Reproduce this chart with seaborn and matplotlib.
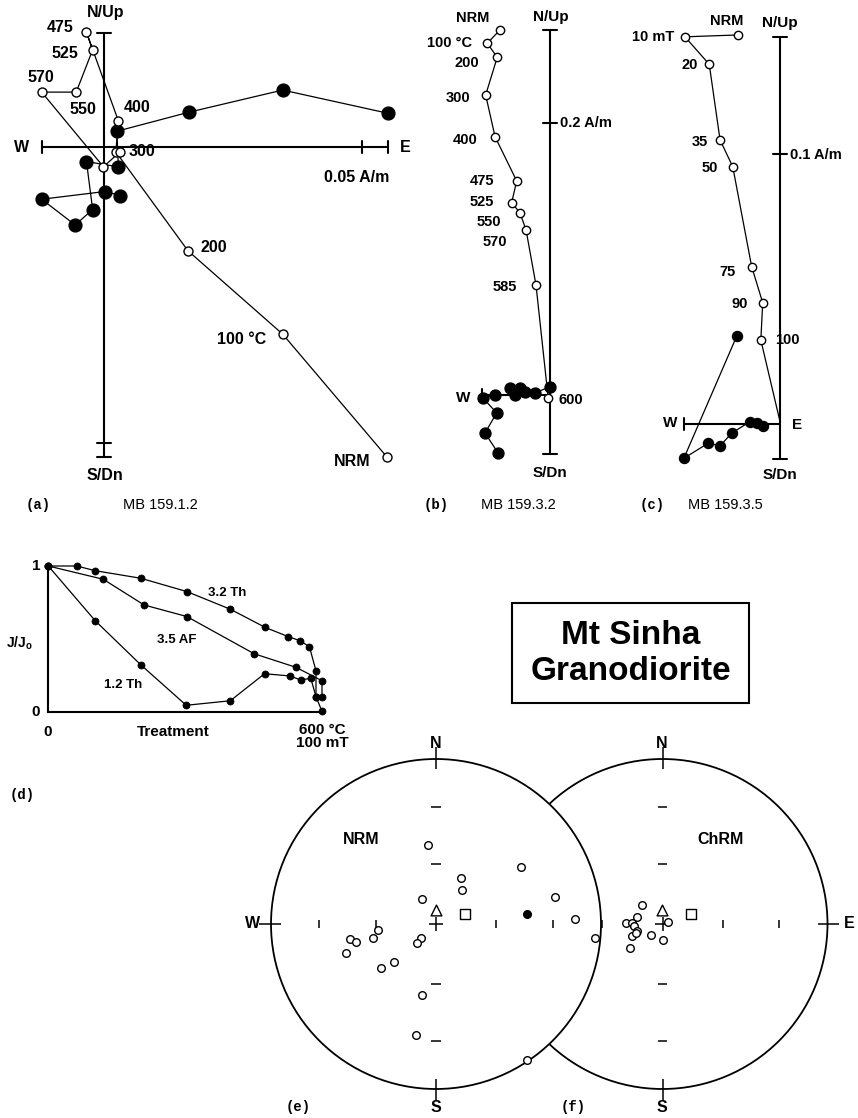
import numpy as np
import pandas as pd
import matplotlib
matplotlib.use("Agg")
import matplotlib.pyplot as plt
import seaborn as sns
from matplotlib.patches import Circle, Rectangle

sns.set_theme(style="white")
plt.rcParams['font.family'] = ['Liberation Sans', 'DejaVu Sans']

# ---------------- DATA ----------------
# (a) MB 159.1.2, thermal, units of 0.01 A/m
a_steps = ["NRM", "100 °C", "200", "300", "400", "475", "525", "550", "570", "585", "600"]
a_vert_E = [5.48, 3.46, 1.62, 0.22, 0.27, -0.35, -0.23, -0.55, -1.22, -0.02, 0.30]
a_vert_U = [-6.02, -3.64, -2.02, -0.10, 0.50, 2.22, 1.88, 1.06, 1.06, -0.39, -0.10]
a_hor_E = [5.50, 3.46, 1.64, 0.24, 0.27, -0.35, -0.23, -0.57, -1.22, 0.01, 0.31]
a_hor_N = [0.65, 1.10, 0.67, 0.30, -0.39, -0.29, -1.22, -1.52, -1.02, -0.87, -0.95]

# (b) MB 159.3.2, thermal
b_steps = ["NRM", "100 °C", "200", "300", "400", "475", "525", "550", "570", "585", "600"]
b_vert_E = [-3.68, -4.61, -3.88, -4.73, -4.04, -2.45, -2.82, -2.21, -1.76, -1.03, -0.13]
b_vert_U = [26.84, 25.86, 24.83, 22.06, 18.99, 15.74, 14.14, 13.40, 12.13, 8.09, -0.24]
b_hor_E = [-3.82, -4.78, -3.92, -4.93, -4.04, -2.57, -2.94, -2.21, -1.85, -1.10, 0.0]
b_hor_N = [-4.26, -2.79, -1.32, -0.22, 0.0, 0.0, 0.51, 0.51, 0.20, 0.15, 0.61]

# (c) MB 159.3.5, AF
c_steps = ["NRM", "10 mT", "20", "35", "50", "75", "90", "100"]
c_vert_E = [-1.54, -3.52, -2.62, -2.22, -1.75, -1.05, -0.64, -0.71, 0.0]
c_vert_U = [14.41, 14.34, 13.32, 10.52, 9.53, 5.83, 4.49, 3.11, 0.09]
c_hor_E = [-1.60, -3.56, -2.66, -2.22, -1.79, -1.11, -0.86, -0.62]
c_hor_N = [3.26, -1.27, -0.71, -0.81, -0.34, 0.09, 0.03, -0.07]

# (d) normalised intensity decay (treatment as fraction of 600 °C / 100 mT)
d32_t = [0, 0.104, 0.171, 0.338, 0.506, 0.665, 0.793, 0.877, 0.920, 0.954, 0.978, 0.978, 0.999]
d32_j = [1, 1.0, 0.968, 0.916, 0.825, 0.704, 0.579, 0.516, 0.488, 0.447, 0.283, 0.105, 0.009]
d35_t = [0, 0.201, 0.350, 0.506, 0.752, 0.905, 1.0, 1.0]
d35_j = [1, 0.909, 0.733, 0.654, 0.399, 0.306, 0.214, 0.105]
d12_t = [0, 0.171, 0.338, 0.504, 0.665, 0.790, 0.883, 0.922, 0.959, 0.978]
d12_j = [1, 0.626, 0.323, 0.046, 0.077, 0.262, 0.247, 0.219, 0.231, 0.105]

# (e) NRM directions (declination, inclination; negative = upper hemisphere)
nrm_dec = [354, 56, 28, 38, 331, 77, 88, 95, 264, 260, 257, 257, 252, 227, 225, 228, 231, 191, 190, 146]
nrm_inc = [-50, -38, -64, -69, -76, -27, -17, -4, -61, -46, -49, -58, -42, -80, -77, -62, -55, -54, -32, -1]
nrm_fill_dec = [84]
nrm_fill_inc = [44]
# (f) ChRM directions
chrm_dec = [313, 286, 271, 272, 265, 255, 249, 227, 68, 179, 233, 251]
chrm_inc = [-76, -77, -72, -75, -76, -77, -74, -82, -87, -82, -70, -76]
# reference directions (triangle, square)
ref_tri = (359, 83)
ref_sq = (70, 75)

# ---------------- LAYOUT HELPERS ----------------
W, H = 858, 1118
fig = plt.figure(figsize=(W / 100, H / 100), dpi=100)
fig.patch.set_facecolor("white")


def P(x, y):
    return x / W, 1 - y / H


def txt(x, y, s, size=11, weight="bold", ha="center", va="center", family=None, **kw):
    kws = dict(fontsize=size, fontweight=weight, ha=ha, va=va, color="black")
    if family is not None:
        kws["family"] = family
    kws.update(kw)
    fig.text(*P(x, y), s, **kws)


def px_axes(x0, y0, x1, y1):
    ax = fig.add_axes([x0 / W, 1 - y1 / H, (x1 - x0) / W, (y1 - y0) / H])
    ax.set_axis_off()
    ax.patch.set_alpha(0)
    return ax


def zij_axes(box, origin, s):
    x0, y0, x1, y1 = box
    ox, oy = origin
    ax = px_axes(x0, y0, x1, y1)
    ax.set_xlim((x0 - ox) / s, (x1 - ox) / s)
    ax.set_ylim((oy - y1) / s, (oy - y0) / s)
    return ax


AXLW = 1.5
DLW = 0.9


def zij_frame(ax, s, xr, yr, xcaps, ycaps, xticks, yticks):
    ax.plot(xr, [0, 0], color="black", lw=AXLW, solid_capstyle="butt", zorder=1)
    ax.plot([0, 0], yr, color="black", lw=AXLW, solid_capstyle="butt", zorder=1)
    for xc in xcaps + xticks:
        ax.plot([xc, xc], [-6 / s, 6 / s], color="black", lw=AXLW, zorder=1)
    for yc in ycaps + yticks:
        ax.plot([-7 / s, 7 / s], [yc, yc], color="black", lw=AXLW, zorder=1)


def zij_series(ax, E, N, filled, size, nmark=None):
    df = pd.DataFrame({"E": E, "N": N})
    sns.lineplot(data=df, x="E", y="N", sort=False, estimator=None, color="black",
                 lw=DLW, ax=ax, zorder=2)
    dm = df if nmark is None else df.iloc[:nmark]
    sns.scatterplot(data=dm, x="E", y="N", marker="o", s=size,
                    color="black" if filled else "white", edgecolor="black",
                    linewidth=1.0, ax=ax, zorder=3, legend=False, clip_on=False)


# ---------------- (a) ----------------
sa = 51.5
axa = zij_axes((0, 0, 420, 500), (104.5, 146.7), sa)
zij_frame(axa, sa, [-1.22, 5.50], [-6.03, 2.21], [-1.22, 5.50], [-6.03, 2.21], [5.0], [-5.75])
zij_series(axa, a_hor_E, a_hor_N, True, 85)
zij_series(axa, a_vert_E, a_vert_U, False, 42)
axa.set_xlim((0 - 104.5) / sa, (420 - 104.5) / sa)
axa.set_ylim((146.7 - 500) / sa, 146.7 / sa)
a_lab_xy = {"475": (60, 28), "525": (65, 53), "570": (41, 77), "550": (83, 110),
            "400": (137, 107), "300": (142, 152), "200": (214, 248),
            "100 °C": (242, 339), "NRM": (352, 461)}
for k, (x, y) in a_lab_xy.items():
    txt(x, y, k, size=11.5)
txt(106, 12, "N/Up", size=11.5)
txt(105, 475, "S/Dn", size=11.5)
txt(22, 147, "W", size=11.5)
txt(405, 147, "E", size=11.5)
txt(357, 177, "0.05 A/m", size=11.5)

# ---------------- (b) ----------------
sb = 13.6
boxb = (420, 0, 620, 500)
axb = zij_axes(boxb, (550, 395), sb)
zij_frame(axb, sb, [-5.03, 0], [-4.34, 26.84], [-5.03], [-4.34, 26.84], [], [20])
zij_series(axb, b_hor_E, b_hor_N, True, 62)
zij_series(axb, b_vert_E, b_vert_U, False, 36)
axb.set_xlim((420 - 550) / sb, (620 - 550) / sb)
axb.set_ylim((395 - 500) / sb, 395 / sb)
b_lab_xy = {"NRM": (473, 18), "100 °C": (450, 43), "200": (467, 63), "300": (458, 98),
            "400": (465, 140), "475": (482, 181), "525": (482, 202), "550": (489, 222),
            "570": (495, 242), "585": (505, 287), "600": (571, 400)}
for k, (x, y) in b_lab_xy.items():
    txt(x, y, k, size=10.5)
txt(551, 17, "N/Up", size=11)
txt(550, 473, "S/Dn", size=11)
txt(463, 398, "W", size=11)
txt(560, 123, "0.2 A/m", size=10.5, ha="left")

# ---------------- (c) ----------------
sc = 27.0
boxc = (630, 0, 858, 500)
axc = zij_axes(boxc, (780, 424), sc)
zij_frame(axc, sc, [-3.56, 0], [-1.30, 14.34], [-3.56], [-1.30, 14.34], [], [10])
zij_series(axc, c_hor_E, c_hor_N, True, 52)
zij_series(axc, c_vert_E, c_vert_U, False, 36, nmark=len(c_steps))
axc.set_xlim((630 - 780) / sc, (858 - 780) / sc)
axc.set_ylim((424 - 500) / sc, 424 / sc)
c_lab_xy = {"NRM": (727, 21), "10 mT": (653, 37), "20": (690, 65), "35": (700, 142),
            "50": (710, 168), "75": (728, 272), "90": (740, 304), "100": (787, 340)}
for k, (x, y) in c_lab_xy.items():
    txt(x, y, k, size=10.5)
txt(780, 23, "N/Up", size=11)
txt(780, 475, "S/Dn", size=11)
txt(670, 423, "W", size=11)
txt(797, 425, "E", size=11)
txt(790, 155, "0.1 A/m", size=10.5, ha="left")

# panel captions row
mono = ["Liberation Mono", "DejaVu Sans Mono"]
txt(38, 505, "(a)", size=10, family=mono)
txt(160, 505, "MB 159.1.2", size=10.5, weight="normal")
txt(436, 505, "(b)", size=10, family=mono)
txt(518, 505, "MB 159.3.2", size=10.5, weight="normal")
txt(652, 505, "(c)", size=10, family=mono)
txt(725, 505, "MB 159.3.5", size=10.5, weight="normal")

# ---------------- (d) ----------------
axd = fig.add_axes([48.3 / W, 1 - 712 / H, (322 - 48.3) / W, (712 - 566) / H])
axd.set_xlim(0, 1)
axd.set_ylim(0, 1)
axd.patch.set_alpha(0)
for sp in ["top", "right"]:
    axd.spines[sp].set_visible(False)
for sp in ["left", "bottom"]:
    axd.spines[sp].set_color("black")
    axd.spines[sp].set_linewidth(1.5)
axd.set_xticks([])
axd.set_yticks([])
for t, j in [(d32_t, d32_j), (d35_t, d35_j), (d12_t, d12_j)]:
    df = pd.DataFrame({"t": t, "j": j})
    sns.lineplot(data=df, x="t", y="j", sort=False, estimator=None, color="black",
                 lw=DLW, ax=axd, zorder=2, clip_on=False)
    sns.scatterplot(data=df, x="t", y="j", marker="o", s=26, color="black",
                    edgecolor="black", linewidth=0.5, ax=axd, zorder=3,
                    legend=False, clip_on=False)
axd.set_xlabel("")
axd.set_ylabel("")
axd.set_xlim(0, 1)
axd.set_ylim(0, 1)
txt(36, 566, "1", size=11)
txt(36, 712, "0", size=11)
txt(48, 732, "0", size=11)
txt(19, 643, "J/J$_\\mathregular{o}$", size=10)
txt(173, 732, "Treatment", size=11)
txt(322, 730, "600 °C", size=11)
txt(322, 743, "100 mT", size=11)
txt(227, 593, "3.2 Th", size=9.5)
txt(177, 640, "3.5 AF", size=9.5)
txt(123, 685, "1.2 Th", size=9.5)
txt(22, 795, "(d)", size=10, family=mono)

# ---------------- title box ----------------
fig.add_artist(Rectangle(P(512, 703), (749 - 512) / W, (703 - 603) / H,
                         transform=fig.transFigure, fill=False, lw=1.5, ec="black"))
txt(631, 636, "Mt Sinha", size=24)
txt(631, 672, "Granodiorite", size=24)

# ---------------- (e), (f) stereonets ----------------
R = 165.0
c1 = (436.0, 924.0)
c2 = (662.5, 924.0)
dxc = (c2[0] - c1[0]) / R
axs = px_axes(250, 735, 858, 1118)
axs.set_xlim((250 - c1[0]) / R, (858 - c1[0]) / R)
axs.set_ylim((c1[1] - 1118) / R, (c1[1] - 735) / R)


def eqarea(dec, inc, cx=0.0):
    dec = np.radians(np.asarray(dec, float))
    inc = np.asarray(inc, float)
    r = np.sqrt(2) * np.sin(np.radians(90 - np.abs(inc)) / 2)
    return cx + r * np.sin(dec), r * np.cos(dec)


axs.add_patch(Circle((dxc, 0), 1, fill=False, ec="black", lw=1.3, zorder=1))
axs.add_patch(Circle((0, 0), 1, fc="white", ec="black", lw=1.3, zorder=2))

rt = [np.sqrt(2) * np.sin(np.radians(15)), np.sqrt(2) * np.sin(np.radians(30))]


def net_marks(cx, z, sides):
    kw = dict(color="black", lw=1.1, zorder=z, solid_capstyle="butt")
    axs.plot([cx - 0.045, cx + 0.045], [0, 0], **kw)
    axs.plot([cx, cx], [-0.045, 0.045], **kw)
    for r in rt:
        for sg in (-1, 1):
            axs.plot([cx - 0.03, cx + 0.03], [sg * r, sg * r], **kw)
            axs.plot([cx + sg * r, cx + sg * r], [-0.025, 0.025], **kw)
    for sd in sides:
        if sd == "N":
            axs.plot([cx, cx], [0.94, 1.07], **kw)
        if sd == "S":
            axs.plot([cx, cx], [-0.94, -1.07], **kw)
        if sd == "W":
            axs.plot([cx - 0.94, cx - 1.07], [0, 0], **kw)
        if sd == "E":
            axs.plot([cx + 0.94, cx + 1.07], [0, 0], **kw)


net_marks(dxc, 1, ["N", "S", "E"])
net_marks(0.0, 3, ["N", "S", "W"])


def stereo_pts(dec, inc, cx, marker, size, filled):
    x, y = eqarea(dec, inc, cx)
    sns.scatterplot(x=x, y=y, marker=marker, s=size,
                    color="black" if filled else "white", edgecolor="black",
                    linewidth=1.0, ax=axs, zorder=5, legend=False, clip_on=False)


stereo_pts(nrm_dec, nrm_inc, 0.0, "o", 30, False)
stereo_pts(nrm_fill_dec, nrm_fill_inc, 0.0, "o", 30, True)
stereo_pts(chrm_dec, chrm_inc, dxc, "o", 30, False)
for cx in (0.0, dxc):
    stereo_pts([ref_tri[0]], [ref_tri[1]], cx, "^", 60, False)
    stereo_pts([ref_sq[0]], [ref_sq[1]], cx, "s", 55, False)
axs.set_xlim((250 - c1[0]) / R, (858 - c1[0]) / R)
axs.set_ylim((c1[1] - 1118) / R, (c1[1] - 735) / R)
axs.set_aspect("auto")

txt(436, 743, "N", size=11.5)
txt(662, 743, "N", size=11.5)
txt(436, 1107, "S", size=11.5)
txt(662, 1107, "S", size=11.5)
txt(253, 924, "W", size=11.5)
txt(849, 924, "E", size=11.5)
txt(361, 839, "NRM", size=11.5)
txt(721, 839, "ChRM", size=11.5)
txt(298, 1107, "(e)", size=10, family=mono)
txt(573, 1107, "(f)", size=10, family=mono)

fig.savefig("out.png", dpi=100, facecolor="white")
